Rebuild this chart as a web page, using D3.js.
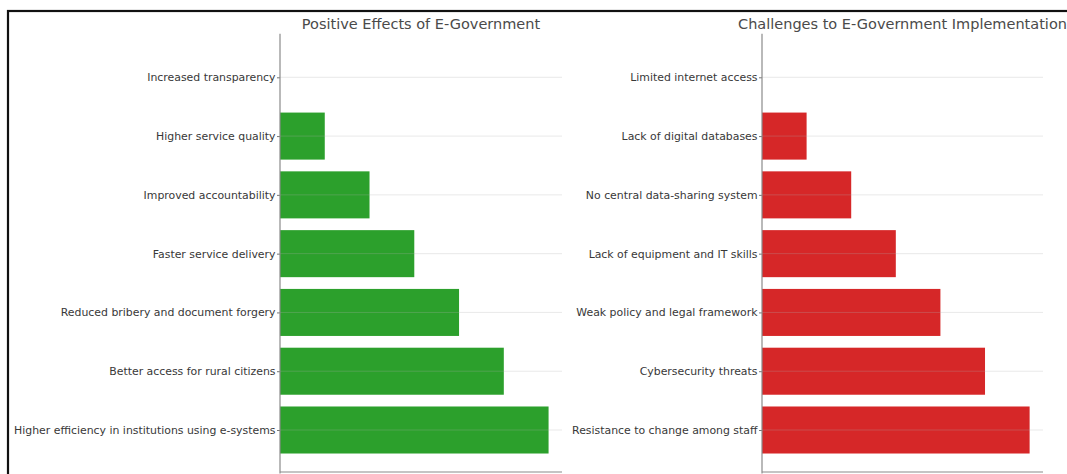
<!DOCTYPE html>
<html>
<head>
<meta charset="utf-8">
<script src="https://cdn.jsdelivr.net/npm/d3@7"></script>
<style>
  body { margin: 0; background: #fff; }
  svg { display: block; font-family: "DejaVu Sans", sans-serif; }
</style>
</head>
<body>
<div id="chart"></div>
<script>
let w = 1067;
let h = 474;

// left panel
let positiveLabels = [
  "Increased transparency",
  "Higher service quality",
  "Improved accountability",
  "Faster service delivery",
  "Reduced bribery and document forgery",
  "Better access for rural citizens",
  "Higher efficiency in institutions using e-systems"
];
let positiveValues = [0, 1, 2, 3, 4, 5, 6];

// right panel
let challengeLabels = [
  "Limited internet access",
  "Lack of digital databases",
  "No central data-sharing system",
  "Lack of equipment and IT skills",
  "Weak policy and legal framework",
  "Cybersecurity threats",
  "Resistance to change among staff"
];
let challengeValues = [0, 1, 2, 3, 4, 5, 6];

let viz = d3.select("#chart")
  .append("svg")
    .attr("width", w)
    .attr("height", h)
    .attr("viewBox", "0 0 " + w + " " + h);

// outer frame (runs past the right and bottom edges)
viz.append("rect")
  .attr("x", 8)
  .attr("y", 11)
  .attr("width", w + 20)
  .attr("height", h + 20)
  .attr("fill", "none")
  .attr("stroke", "#111")
  .attr("stroke-width", 2.2);

function drawPanel(labels, values, color, title, left, right) {
  let top = 33.8;
  let bottom = 473.5;

  let g = viz.append("g").attr("class", "panel");

  let x = d3.scaleLinear().domain([0, 6.3]).range([left, right]);
  let y = d3.scalePoint().domain(labels).range([top, bottom]).padding(0.74);
  let barH = y.step() * 0.8;

  let data = labels.map((d, i) => ({label: d, value: values[i]}));

  g.selectAll(".bar").data(data).enter().append("rect")
    .attr("class", "bar")
    .attr("x", x(0))
    .attr("y", d => y(d.label) - barH / 2)
    .attr("width", d => x(d.value) - x(0))
    .attr("height", barH)
    .attr("fill", color);

  // horizontal grid, drawn over the bars like the original
  g.selectAll(".grid").data(labels).enter().append("line")
    .attr("class", "grid")
    .attr("x1", x(0))
    .attr("x2", right)
    .attr("y1", d => y(d))
    .attr("y2", d => y(d))
    .attr("stroke", "#b0b0b0")
    .attr("stroke-opacity", 0.35)
    .attr("stroke-width", 0.8);

  let yAxis = g.append("g")
    .attr("transform", `translate(${left},0)`)
    .call(d3.axisLeft(y).tickSize(3).tickPadding(1.5));
  yAxis.select(".domain").remove();
  yAxis.selectAll(".tick line").attr("stroke", "#777");
  yAxis.selectAll(".tick text")
    .attr("fill", "#383838")
    .attr("font-size", "10.9px")
    .attr("font-family", "DejaVu Sans, sans-serif");

  // spines: left and bottom only
  g.append("line")
    .attr("x1", left).attr("x2", left)
    .attr("y1", top).attr("y2", bottom)
    .attr("stroke", "#8a8a8a")
    .attr("stroke-width", 1.2);
  g.append("line")
    .attr("x1", left).attr("x2", right)
    .attr("y1", 472).attr("y2", 472)
    .attr("stroke", "#8a8a8a")
    .attr("stroke-width", 1.2);

  g.append("text")
    .attr("x", (left + right) / 2)
    .attr("y", 29)
    .attr("text-anchor", "middle")
    .attr("font-size", "14.5px")
    .attr("fill", "#4a4a4a")
    .text(title);
}

drawPanel(positiveLabels, positiveValues, "#2ca02c", "Positive Effects of E-Government", 280, 562);
drawPanel(challengeLabels, challengeValues, "#d62728", "Challenges to E-Government Implementation", 762, 1043);
</script>
</body>
</html>
